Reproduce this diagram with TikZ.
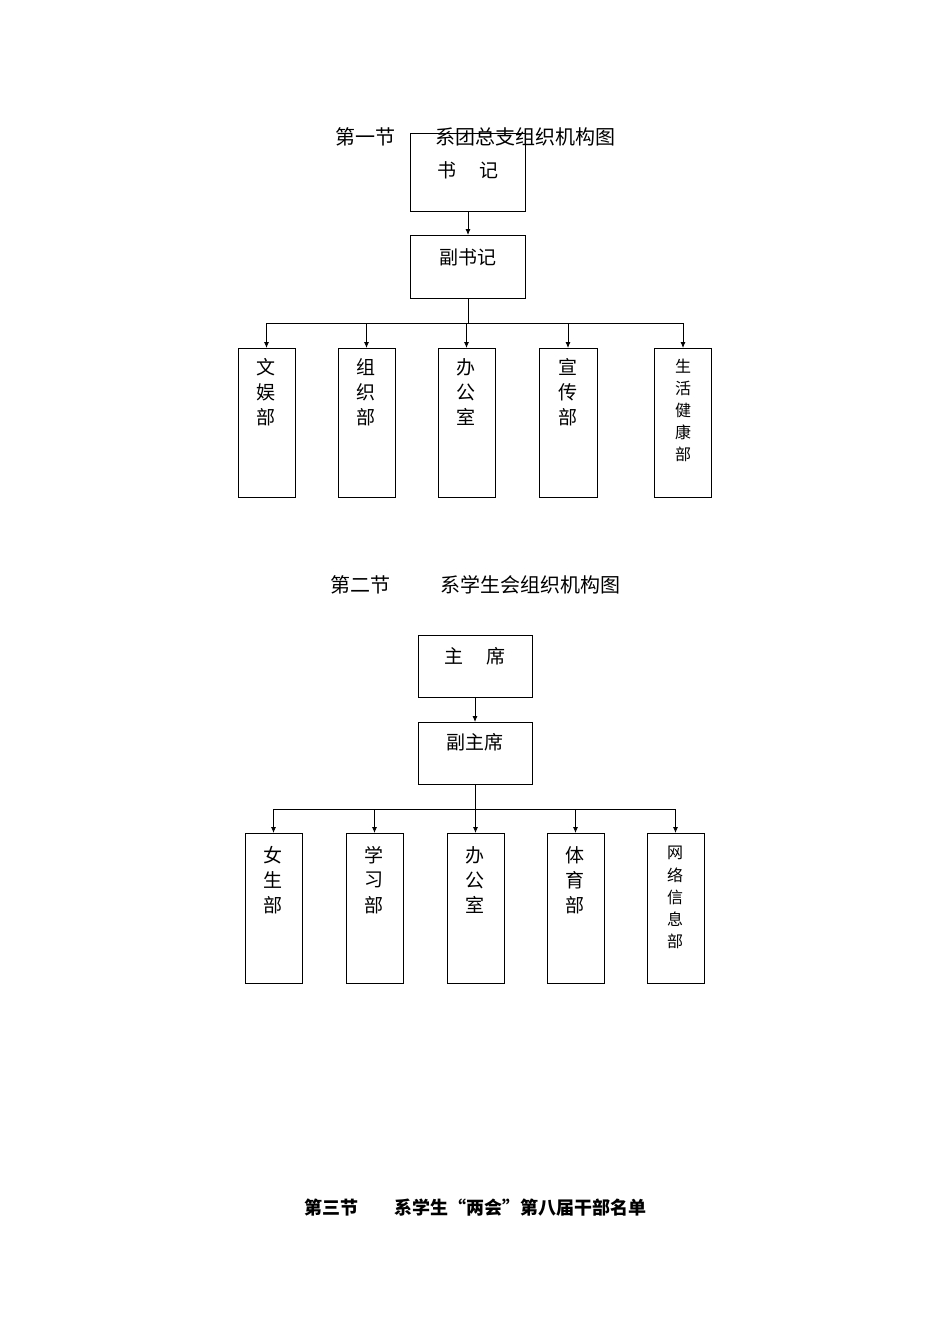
\documentclass[tikz,border=0pt]{standalone}
\usepackage{fontspec}
\newfontfamily\cjk{Noto Sans CJK SC}
\begin{document}
\begin{tikzpicture}[x=1pt,y=-1pt,
  bx/.style={draw,line width=0.8pt},
  ln/.style={line width=0.8pt},
  ar/.style={line width=0.8pt,-{Latex[length=6pt,width=5pt]}},
  t/.style={font=\cjk\fontsize{19}{22}\selectfont,inner sep=0},
  ts/.style={font=\cjk\fontsize{16}{22}\selectfont,inner sep=0},
  ttl/.style={font=\cjk\fontsize{20}{24}\selectfont,inner sep=0}]
\usetikzlibrary{arrows.meta}
\useasboundingbox (0,0) rectangle (950,1344);
\node[ttl] (t1) at (475,137) {第一节\hspace{2em}系团总支组织机构图};
% section 1
\draw[bx] (410,133) rectangle (525,211); \node[t] (shuji) at (468,170) {书\hspace{1.2em}记};
\draw[bx] (410,235) rectangle (525,298); \node[t] (fsj) at (468,257) {副书记};
\coordinate (a1) at (468,211); \coordinate (a2) at (468,235);
\draw[ar] (a1) -- (a2);
\coordinate (b1) at (468,298); \coordinate (bL) at (267,323); \coordinate (bR) at (684,323);
\draw[ln] (b1) -- (468,323); \draw[ln] (bL) -- (bR);
\foreach \l/\r/\n in {238/295/文娱部,338/395/组织部,438/495/办公室,539/597/宣传部}{
  \draw[bx] (\l,348) rectangle (\r,497);
  \draw[ar] ({(\l+\r)/2},323) -- ({(\l+\r)/2},348);
}
\foreach \x/\a/\b/\c in {266/文/娱/部,366/组/织/部,466/办/公/室,568/宣/传/部}{
  \node[t] at (\x,367) {\a}; \node[t] at (\x,392) {\b}; \node[t] at (\x,417) {\c};}
\draw[bx] (654,348) rectangle (711,497); \draw[ar] (683,323) -- (683,348);
\foreach \y/\c in {366/生,388/活,410/健,432/康,454/部}{\node[ts] at (683,\y) {\c};}
% section 2
\node[ttl] (t2) at (475,585) {第二节\hspace{2.5em}系学生会组织机构图};
\draw[bx] (418,635) rectangle (532,697); \node[t] (zx) at (475,656) {主\hspace{1.2em}席};
\draw[bx] (418,722) rectangle (532,784); \node[t] (fzx) at (475,742) {副主席};
\draw[ar] (475,697) -- (475,722);
\draw[ln] (475,784) -- (475,809); \draw[ln] (274,809) -- (676,809);
\foreach \l/\r in {245/302,346/403,447/504,547/604,647/704}{
  \draw[bx] (\l,833) rectangle (\r,983);
  \draw[ar] ({(\l+\r)/2},809) -- ({(\l+\r)/2},833);
}
\foreach \x/\a/\b/\c in {273/女/生/部,374/学/习/部,475/办/公/室,575/体/育/部}{
  \node[t] at (\x,855) {\a}; \node[t] at (\x,880) {\b}; \node[t] at (\x,905) {\c};}
\foreach \y/\c in {853/网,875/络,897/信,919/息,941/部}{\node[ts] at (675,\y) {\c};}
% section 3
\node[font=\cjk\bfseries\fontsize{18}{22}\selectfont,inner sep=0] (t3) at (475,1208) {第三节\hspace{2em}系学生“两会”第八届干部名单};
\end{tikzpicture}
\end{document}
